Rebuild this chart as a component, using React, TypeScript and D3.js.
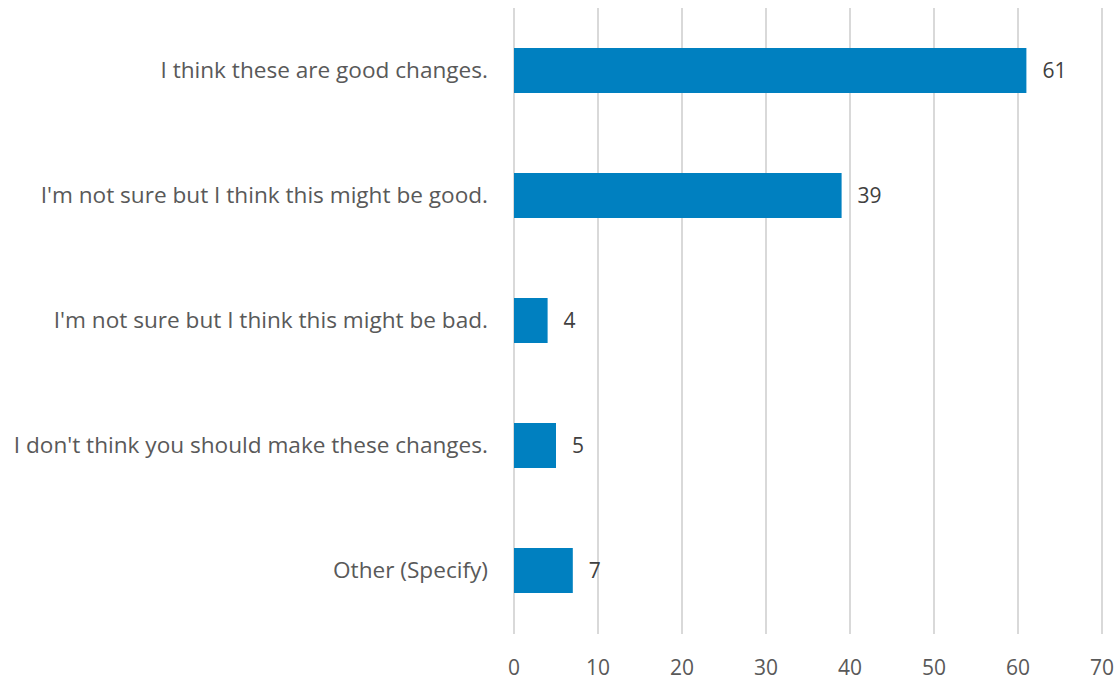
import React from "react";
import * as d3 from "d3";

const categories = [
  "I think these are good changes.",
  "I'm not sure but I think this might be good.",
  "I'm not sure but I think this might be bad.",
  "I don't think you should make these changes.",
  "Other (Specify)",
];
const values = [61, 39, 4, 5, 7];
const ticks = [0, 10, 20, 30, 40, 50, 60, 70];

const W = 1119;
const H = 681;

export default function App() {
  const x = d3.scaleLinear().domain([0, 70]).range([514, 1102]);
  const y = d3
    .scaleBand<string>()
    .domain(categories)
    .range([8, 633])
    .paddingInner(0.64)
    .paddingOuter(0.32);
  const font = "'Open Sans', sans-serif";
  const textColor = "#595959";
  return (
    <div style={{ position: "absolute", left: 0, top: 0 }}>
      <svg width={W} height={H} style={{ display: "block" }}>
        <rect width={W} height={H} fill="#fff" />
        {ticks.map((t) => (
          <line key={t} x1={x(t)} x2={x(t)} y1={8} y2={634} stroke="#d9d9d9" strokeWidth={2} />
        ))}
        {categories.map((c, i) => (
          <g key={c}>
            <rect x={x(0)} y={y(c)!} width={x(values[i]) - x(0)} height={y.bandwidth()} fill="#0080C0" />
            <text
              x={x(values[i]) + 16}
              y={y(c)! + y.bandwidth() / 2}
              dy="0.35em"
              fontFamily={font}
              fontSize={21}
              fill="#404040"
            >
              {values[i]}
            </text>
            <text
              x={488}
              y={y(c)! + y.bandwidth() / 2}
              dy="0.35em"
              textAnchor="end"
              fontFamily={font}
              fontSize={22.6}
              fill={textColor}
            >
              {c}
            </text>
          </g>
        ))}
        {ticks.map((t) => (
          <text
            key={"l" + t}
            x={x(t)}
            y={668}
            dy="0.35em"
            textAnchor="middle"
            fontFamily={font}
            fontSize={21}
            fill={textColor}
          >
            {t}
          </text>
        ))}
      </svg>
    </div>
  );
}
